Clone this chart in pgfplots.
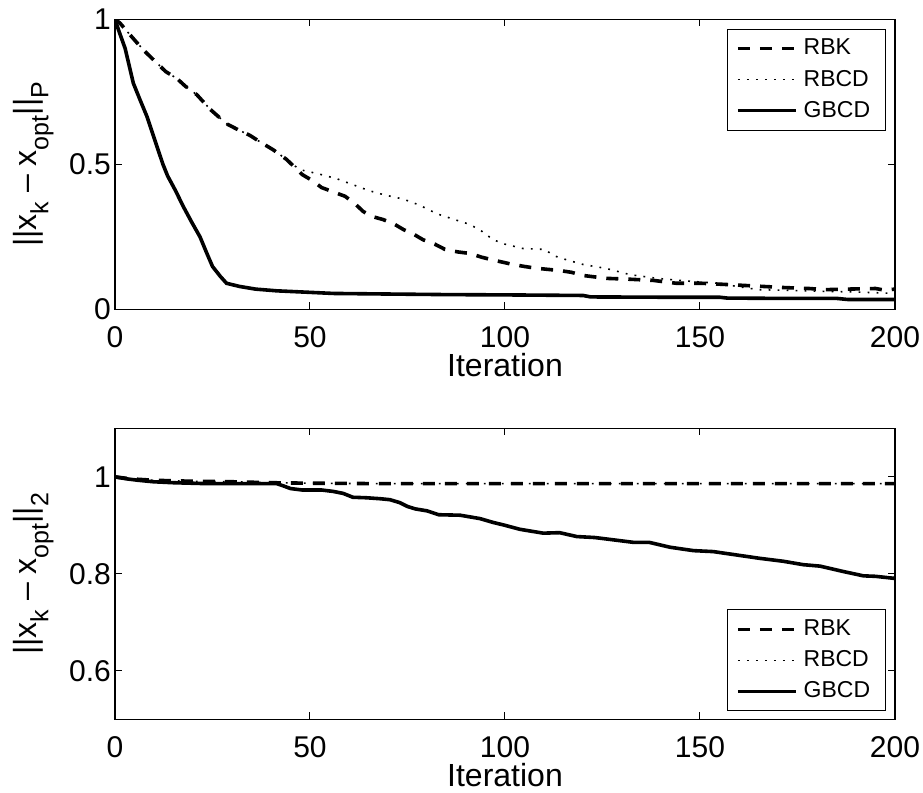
\documentclass[border=0pt]{standalone}
\usepackage{fontspec}
\setmainfont{Liberation Sans}
\usepackage{pgfplots}
\pgfplotsset{compat=1.18}

\newcommand\sub[1]{\raisebox{-6pt}{\fontsize{12.5}{12.5}\selectfont #1}}

\pgfplotsset{
  myaxis/.style={
    scale only axis,
    width=390pt,
    xmin=0, xmax=200,
    xtick={0,50,100,150,200},
    axis line style={line width=0.6pt},
    every tick/.style={black, line width=0.5pt},
    major tick length=3.5pt,
    tick align=inside,
    /pgf/number format/assume math mode=true,
    tick label style={font=\fontsize{15}{15}\selectfont},
    xticklabel style={anchor=base, yshift=-19pt, inner sep=0.5pt},
    yticklabel style={xshift=1.5pt},
    label style={font=\fontsize{16}{16}\selectfont},
    xlabel={Iteration},
    xlabel style={at={(axis description cs:0.5,0)}, anchor=center, yshift=-27.6pt, inner sep=0.3pt},
    ylabel style={at={(axis description cs:-0.1009,0.5)}, anchor=base},
    legend cell align=left,
    legend image code/.code={\draw[##1] (0pt,0pt) -- (29pt,0pt);},
    legend style={font=\fontsize{11.5}{11.5}\selectfont, draw=black, line width=0.5pt,
      inner xsep=4.5pt, inner ysep=2pt,
      nodes={inner sep=3pt}},
  },
  rbk/.style={black, line width=1.8pt, dash pattern=on 6pt off 5pt},
  rbcd/.style={black, line width=0.8pt, dash pattern=on 0.9pt off 3.6pt},
  gbcd/.style={black, line width=1.8pt},
}

\begin{document}
\begin{tikzpicture}
\path[use as bounding box] (0,-1.8pt) rectangle (461.5pt,394.7pt);

% ---------- top ----------
\begin{axis}[myaxis,
  at={(57.5pt,240pt)}, anchor=south west,
  height=145pt,
  ymin=0, ymax=1, ytick={0,0.5,1},
  ylabel={||x\sub{k} – x\sub{opt}||\sub{P}},
  legend style={at={(0.988,0.968)}, anchor=north east},
]
\addplot[rbk] coordinates {
(0,1) (1.3,0.987) (3,0.96) (5.6,0.92) (8,0.885) (10.7,0.85) (13,0.82) (15.9,0.796)
(18,0.77) (21,0.74) (24.4,0.69) (26.5,0.665) (28.6,0.64) (31.5,0.62) (34.6,0.60)
(37.5,0.575) (40.6,0.55) (44,0.517) (48,0.465) (50.5,0.445) (53,0.42) (56,0.405)
(59,0.39) (61.5,0.365) (63.6,0.338) (66,0.32) (68.7,0.31) (71.5,0.295) (74,0.275)
(76.5,0.26) (79,0.24) (82,0.225) (84.6,0.207) (88,0.198) (91,0.193) (94,0.18)
(97,0.17) (102,0.155) (105,0.148) (108,0.142) (114,0.134) (117,0.128) (120,0.117)
(126,0.107) (132,0.104) (138,0.10) (144,0.09) (150.5,0.09) (158,0.085) (165,0.08)
(172,0.075) (178,0.072) (182,0.068) (188,0.07) (195,0.072) (197.5,0.066) (200,0.07)
};
\addlegendentry{RBK}
\addplot[rbcd] coordinates {
(0,1) (1.3,0.987) (3,0.96) (5.6,0.92) (8,0.885) (10.7,0.85) (13,0.82) (15.9,0.796)
(18,0.77) (21,0.74) (24.4,0.69) (26.5,0.665) (28.6,0.64) (31.5,0.62) (34.6,0.60)
(37.5,0.575) (40.6,0.55) (44,0.517) (46,0.495) (48,0.48) (52,0.468) (57,0.45)
(61,0.43) (65,0.41) (69,0.395) (74,0.38) (78,0.36) (82.5,0.33) (87,0.31)
(91,0.293) (94,0.27) (97,0.24) (100,0.225) (104.6,0.21) (110,0.207) (113,0.183)
(116,0.17) (120,0.155) (126,0.141) (132,0.12) (139,0.107) (147.5,0.097)
(154.6,0.09) (160,0.078) (165,0.068) (174,0.065) (182.6,0.062) (190,0.06) (200,0.055)
};
\addlegendentry{RBCD}
\addplot[gbcd] coordinates {
(0,1) (1,0.96) (2.6,0.9) (4.7,0.78) (6.5,0.72) (8.2,0.665) (10.3,0.58) (12.3,0.50)
(13.5,0.46) (15.5,0.41) (17.5,0.355) (19.7,0.30) (21.8,0.25) (23.5,0.195) (25,0.148)
(27,0.114) (28.6,0.09) (32,0.079) (36,0.07) (41.5,0.064) (48,0.06) (56,0.055)
(70,0.053) (85,0.051) (100,0.05) (120,0.048) (122,0.043) (140,0.042) (155,0.042)
(157,0.039) (170,0.038) (185,0.038) (188,0.034) (200,0.034)
};
\addlegendentry{GBCD}
\end{axis}

% ---------- bottom ----------
\begin{axis}[myaxis,
  at={(57.5pt,35pt)}, anchor=south west,
  height=145.5pt,
  ymin=0.5, ymax=1.1, ytick={0.6,0.8,1},
  ylabel={||x\sub{k} – x\sub{opt}||\sub{2}},
  legend style={at={(0.988,0.0275)}, anchor=south east},
]
\addplot[rbk] coordinates {
(0,1) (3,0.997) (6,0.995) (10,0.993) (20,0.991) (30,0.99) (40,0.988) (50,0.987)
(70,0.986) (100,0.986) (150,0.986) (200,0.986)
};
\addlegendentry{RBK}
\addplot[rbcd] coordinates {
(0,1) (3,0.997) (6,0.995) (10,0.993) (20,0.991) (30,0.99) (40,0.988) (50,0.987)
(70,0.986) (100,0.986) (150,0.986) (200,0.986)
};
\addlegendentry{RBCD}
\addplot[gbcd] coordinates {
(0,1) (3,0.996) (6,0.993) (9.8,0.99) (15,0.988) (24,0.986) (41.5,0.986) (43,0.982)
(45,0.976) (48,0.973) (53,0.973) (56,0.97) (58.5,0.966) (61,0.958) (64.5,0.957)
(68,0.955) (70.5,0.953) (73,0.947) (75,0.939) (77,0.934) (80,0.93) (83,0.922)
(88.5,0.921) (93.6,0.914) (97,0.906) (99.6,0.901) (103.8,0.892) (109.8,0.884)
(114,0.885) (118.4,0.877) (123,0.875) (127,0.871) (133,0.865) (137,0.865)
(142.3,0.855) (148.3,0.848) (153.4,0.846) (159.4,0.839) (165.4,0.832)
(171.4,0.826) (176.5,0.819) (180.8,0.816) (186.7,0.805) (191.9,0.796)
(195,0.795) (199.6,0.791) (200,0.792)
};
\addlegendentry{GBCD}
\end{axis}
\end{tikzpicture}
\end{document}
